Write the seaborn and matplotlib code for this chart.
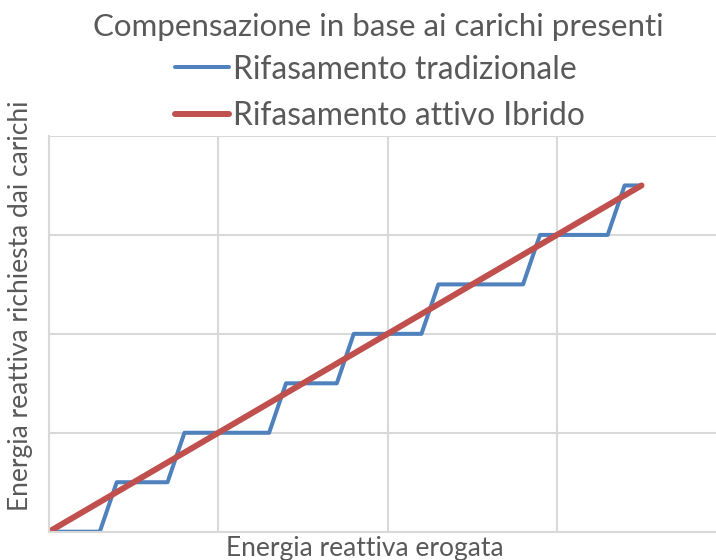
import matplotlib
matplotlib.use("Agg")
import matplotlib.pyplot as plt
import seaborn as sns
import pandas as pd

# Data
trad_x = [0, 0.3, 0.4, 0.7, 0.8, 1.3, 1.4, 1.7, 1.8, 2.2, 2.3, 2.8, 2.9, 3.3, 3.4, 3.5]
trad_y = [0, 0, 0.5, 0.5, 1.0, 1.0, 1.5, 1.5, 2.0, 2.0, 2.5, 2.5, 3.0, 3.0, 3.5, 3.5]
ibr_x = [0, 3.5]
ibr_y = [0, 3.5]
series_names = ["Rifasamento tradizionale", "Rifasamento attivo Ibrido"]
title = "Compensazione in base ai carichi presenti"
xlabel = "Energia reattiva erogata"
ylabel = "Energia reattiva richiesta dai carichi"

sns.set_style("white")
plt.rcParams['font.family'] = ['Lato', 'DejaVu Sans']

df = pd.concat([
    pd.DataFrame({"x": trad_x, "y": trad_y, "s": series_names[0]}),
    pd.DataFrame({"x": ibr_x, "y": ibr_y, "s": series_names[1]}),
])

fig = plt.figure(figsize=(7.16, 5.6), dpi=100)
ax = fig.add_axes([49/716, 1-531.7/560, (726.2-49)/716, (531.7-136)/560])

txt = "#595959"
blue = "#4f81bd"
red = "#c0504d"

sns.lineplot(data=df[df.s == series_names[0]], x="x", y="y", ax=ax, color=blue,
             linewidth=2.9, sort=False, label=series_names[0], legend=False)
sns.lineplot(data=df[df.s == series_names[1]], x="x", y="y", ax=ax, color=red,
             linewidth=4.3, sort=False, label=series_names[1], legend=False,
             solid_capstyle="round")

ax.set_xlim(0, 4)
ax.set_ylim(0, 4)
ax.set_xticks([0, 1, 2, 3, 4])
ax.set_yticks([0, 1, 2, 3, 4])
ax.tick_params(length=0, labelbottom=False, labelleft=False)
ax.grid(True, color="#d9d9d9", linewidth=1.5)
ax.set_axisbelow(True)
for sp in ["top", "right"]:
    ax.spines[sp].set_visible(False)
for sp in ["left", "bottom"]:
    ax.spines[sp].set_color("#d9d9d9")
    ax.spines[sp].set_linewidth(1.5)
ax.set_xlabel("")
ax.set_ylabel("")

fig.text(364.5/716, 1 - 536/560, xlabel, ha="center", va="top",
         fontsize=19, color=txt)
fig.text(21/716, 1 - 306/560, ylabel, ha="center", va="center",
         rotation=90, fontsize=19, color=txt)

fig.text(378/716, 1 - 27/560, title, ha="center", va="center",
         fontsize=22.5, color=txt)

handles, labels = ax.get_legend_handles_labels()
leg = fig.legend(handles, labels, loc="center", bbox_to_anchor=(380/716, 1 - 93/560),
                 ncol=1, frameon=False, fontsize=22.9, handlelength=1.67,
                 handletextpad=0.13, labelspacing=0.53, labelcolor=txt,
                 borderpad=0, borderaxespad=0)

fig.savefig("out.png", dpi=100)
